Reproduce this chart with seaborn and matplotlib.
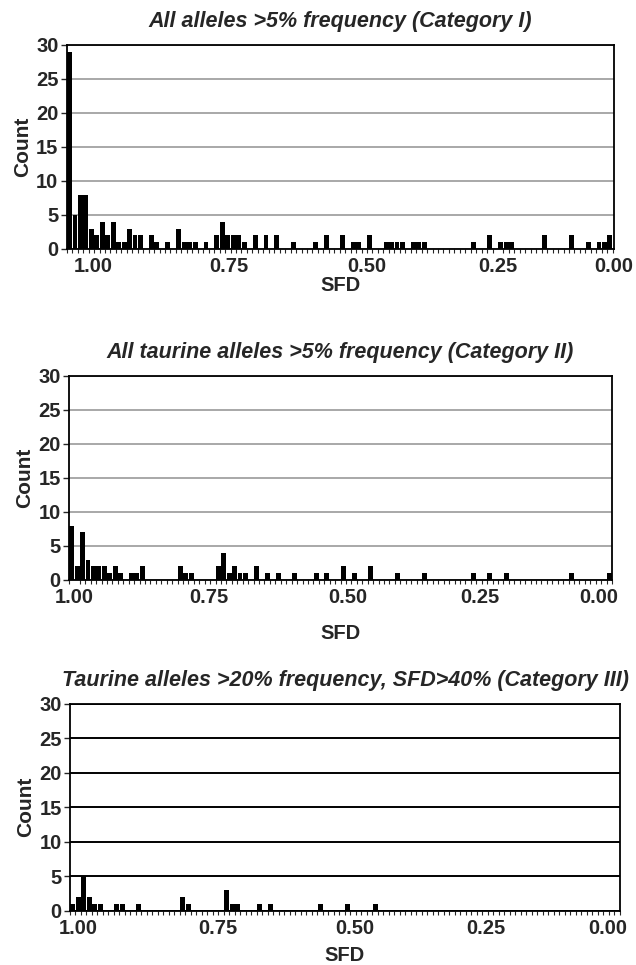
import numpy as np
import pandas as pd
import matplotlib as mpl
mpl.use("Agg")
import matplotlib.pyplot as plt
import seaborn as sns


# CONFIG

CFG_nbins = 100          # SFD bins along the x axis, left = high SFD
CFG_figsize = (6.36, 9.65)
CFG_dpi = 100

# bins that hold alleles (0 = leftmost bin) and their counts
cat1_bins = [0, 1, 2, 3, 4, 5, 6, 7, 8, 9, 10, 11, 12, 13, 15, 16, 18, 20, 21, 22, 23, 25,
             27, 28, 29, 30, 31, 32, 34, 36, 38, 41, 45, 47, 50, 52, 53, 55, 58, 59, 60, 61,
             63, 64, 65, 74, 77, 79, 80, 81, 87, 92, 95, 97, 98, 99]
cat1_counts = [29, 5, 8, 8, 3, 2, 4, 2, 4, 1, 1, 3, 2, 2, 2, 1, 1, 3, 1, 1, 1, 1,
               2, 4, 2, 2, 2, 1, 2, 2, 2, 1, 1, 2, 2, 1, 1, 2, 1, 1, 1, 1,
               1, 1, 1, 1, 2, 1, 1, 1, 2, 2, 1, 1, 1, 2]

cat2_bins = [0, 1, 2, 3, 4, 5, 6, 7, 8, 9, 11, 12, 13, 20, 21, 22, 27, 28, 29, 30, 31, 32,
             34, 36, 38, 41, 45, 47, 50, 52, 55, 60, 65, 74, 77, 80, 92, 99]
cat2_counts = [8, 2, 7, 3, 2, 2, 2, 1, 2, 1, 1, 1, 2, 2, 1, 1, 2, 4, 1, 2, 1, 1,
               2, 1, 1, 1, 1, 1, 2, 1, 2, 1, 1, 1, 1, 1, 1, 1]

cat3_bins = [0, 1, 2, 3, 4, 5, 8, 9, 12, 20, 21, 28, 29, 30, 34, 36, 45, 50, 55]
cat3_counts = [1, 2, 5, 2, 1, 1, 1, 1, 1, 2, 1, 3, 1, 1, 1, 1, 1, 1, 1]

sfd_labels = ['1.00', '0.75', '0.50', '0.25', '0.00']
count_ticks = [0, 5, 10, 15, 20, 25, 30]

titles = ['All alleles >5% frequency (Category I)',
          'All taurine alleles >5% frequency (Category II)',
          'Taurine alleles >20% frequency, SFD>40% (Category III)']

# layout: axes rect in figure fractions, tick label positions in bin units,
# grid colour, gap under the tick labels for "SFD"
CFG_axes = [[0.105, 0.742, 0.860, 0.2114],
            [0.1085, 0.399, 0.8538, 0.2114],
            [0.110, 0.0563, 0.8648, 0.2145]]
CFG_tickpos = [[4.3, 29.2, 54.4, 78.5, 99.7],
               [0.5, 25.2, 50.8, 75.2, 97.1],
               [1.0, 26.4, 51.3, 75.2, 97.2]]
CFG_gridcolor = ['#a8a8a8', '#a8a8a8', '#000000']
CFG_xlabelpad = [0, 12, 6]


def fillBins(bins, counts):
    """expand the sparse bin list to a full dataframe with zeros"""
    c = np.zeros(CFG_nbins, dtype=int)
    c[bins] = counts
    return pd.DataFrame({'bin': np.arange(CFG_nbins), 'count': c})


def sfdPlot(ax, df, title, tickpos, gridcolor, xpad):
    """one SFD histogram panel"""
    sns.barplot(data=df, x='bin', y='count', order=np.arange(CFG_nbins), color='black',
                saturation=1, width=0.9, linewidth=0, errorbar=None, ax=ax)

    ax.set_xlim(-0.5, CFG_nbins - 0.5)
    ax.set_ylim(0, 30)
    ax.set_yticks(count_ticks)
    ax.yaxis.grid(True, color=gridcolor, lw=1.4)
    ax.set_axisbelow(True)

    ax.set_xticks(tickpos, sfd_labels)
    ax.set_xticks(np.arange(-0.5, CFG_nbins), minor=True)
    ax.tick_params(axis='x', which='major', length=0, pad=6, labelsize=14.5)
    ax.tick_params(axis='x', which='minor', length=3, width=0.8, direction='out')
    ax.tick_params(axis='y', length=4, width=1, pad=2, labelsize=14.5)

    for s in ax.spines.values():
        s.set_visible(True)
        s.set_color('black')
        s.set_linewidth(1.3)

    ax.set_title(title, fontsize=15.5, fontweight='bold', style='italic', pad=13)
    ax.set_xlabel('SFD', fontsize=14.5, fontweight='bold', labelpad=xpad)
    ax.set_ylabel('Count', fontsize=15, fontweight='bold', labelpad=3)


# main

if __name__ == '__main__':
    sns.set_style("ticks")
    plt.rcParams['font.family'] = ['Liberation Sans', 'DejaVu Sans']
    plt.rcParams['font.weight'] = 'bold'

    fig = plt.figure(figsize=CFG_figsize, dpi=CFG_dpi)

    data = [fillBins(cat1_bins, cat1_counts),
            fillBins(cat2_bins, cat2_counts),
            fillBins(cat3_bins, cat3_counts)]

    for df_, title, rect, tp, gc, xp in zip(data, titles, CFG_axes, CFG_tickpos,
                                            CFG_gridcolor, CFG_xlabelpad):
        ax = fig.add_axes(rect)
        sfdPlot(ax, df_, title, tp, gc, xp)

    fig.savefig('out.png', dpi=CFG_dpi)
